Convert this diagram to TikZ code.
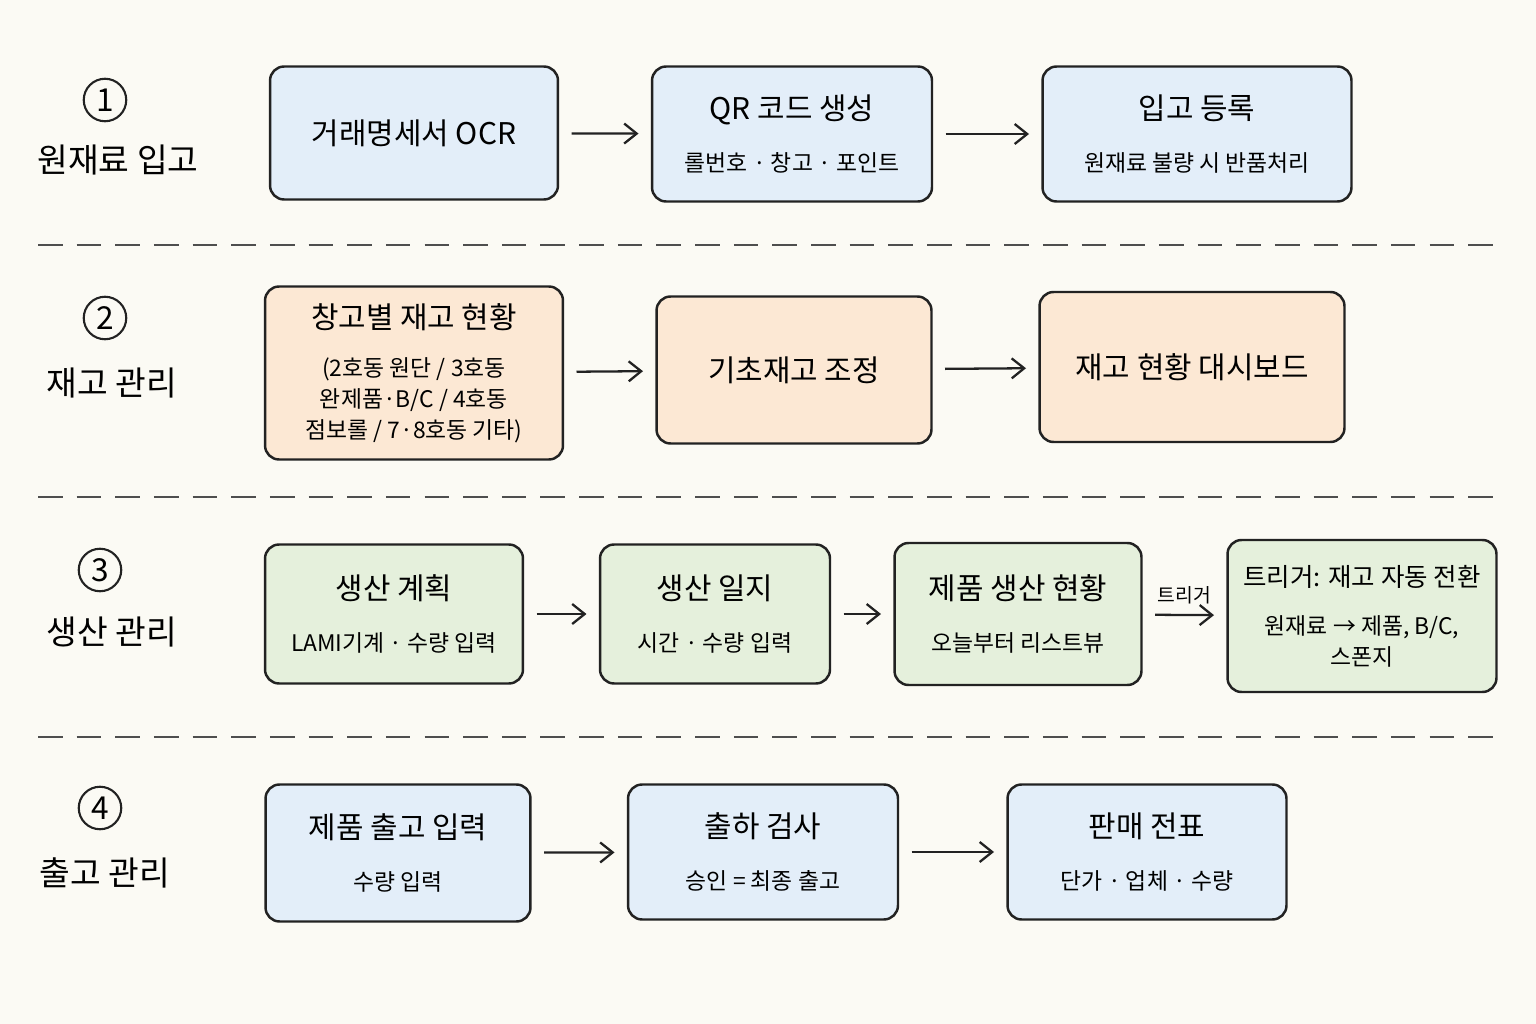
\documentclass[tikz,border=0pt]{standalone}
\usepackage{fontspec}
\setmainfont{Noto Sans CJK KR}
\usetikzlibrary{arrows.meta,positioning}
\definecolor{bg}{HTML}{FBFAF4}
\definecolor{bluef}{HTML}{E3EEF9}
\definecolor{orangef}{HTML}{FCE8D4}
\definecolor{greenf}{HTML}{E5F0DC}
\definecolor{ink}{HTML}{222222}
\newcommand{\ttlfont}{\fontsize{17}{21}\selectfont}
\begin{document}
\begin{tikzpicture}[x=0.02cm,y=-0.02cm,
  box/.style={draw=ink, line width=1.4pt, rounded corners=8pt, align=center, inner sep=2pt,
    font=\fontsize{13}{17.5}\selectfont},
  ttl/.style={font=\ttlfont},
  num/.style={draw=ink, line width=1.2pt, circle, minimum size=0.85cm, inner sep=0pt, font=\fontsize{18}{18}\selectfont},
  stage/.style={font=\fontsize{19}{22}\selectfont},
  arr/.style={-{Straight Barb[length=2.5mm,width=4mm]}, line width=1.3pt, draw=ink, shorten <=7pt, shorten >=7pt},
  sep/.style={dash pattern=on 14pt off 8pt, line width=1pt, draw=ink!80}]
  \fill[bg] (0,0) rectangle (1536,1024);
  \useasboundingbox (0,0) rectangle (1536,1024);

  % stage labels
  \node[num] (n1) at (105,100) {1};
  \node[stage] (s1) at (118,160) {원재료 입고};
  \node[num] (n2) at (105,318) {2};
  \node[stage] (s2) at (112,383) {재고 관리};
  \node[num] (n3) at (100,570) {3};
  \node[stage] (s3) at (112,632) {생산 관리};
  \node[num] (n4) at (100,808) {4};
  \node[stage] (s4) at (105,873) {출고 관리};

  % separators
  \draw[sep] (38,245) -- (1500,245);
  \draw[sep] (38,497) -- (1500,497);
  \draw[sep] (38,737) -- (1500,737);

  % row 1
  \node[box, fill=bluef, minimum width=5.76cm, minimum height=2.66cm, ttl] (ocr) at (414,133) {거래명세서 OCR};
  \node[box, fill=bluef, minimum width=5.6cm, minimum height=2.7cm] (qr) at (792,134)
    {{\ttlfont QR 코드 생성}\\[12pt]롤번호 · 창고 · 포인트};
  \node[box, fill=bluef, minimum width=6.18cm, minimum height=2.7cm] (reg) at (1197,134)
    {{\ttlfont 입고 등록}\\[12pt]원재료 불량 시 반품처리};
  \draw[arr] (ocr) -- (qr);
  \draw[arr] (qr) -- (reg);

  % row 2
  \node[box, fill=orangef, minimum width=5.96cm, minimum height=3.46cm] (wh) at (414,373)
    {{\ttlfont 창고별 재고 현황}\\[10pt](2호동 원단 / 3호동\\완제품·B/C / 4호동\\점보롤 / 7·8호동 기타)};
  \node[box, fill=orangef, minimum width=5.5cm, minimum height=2.94cm, ttl] (adj) at (794,370) {기초재고 조정};
  \node[box, fill=orangef, minimum width=6.1cm, minimum height=3cm, ttl] (dash) at (1192,367) {재고 현황 대시보드};
  \draw[arr] (wh) -- (adj);
  \draw[arr] (adj) -- (dash);

  % row 3
  \node[box, fill=greenf, minimum width=5.16cm, minimum height=2.78cm] (plan) at (394,614)
    {{\ttlfont 생산 계획}\\[12pt]LAMI기계 · 수량 입력};
  \node[box, fill=greenf, minimum width=4.6cm, minimum height=2.78cm] (log) at (715,614)
    {{\ttlfont 생산 일지}\\[12pt]시간 · 수량 입력};
  \node[box, fill=greenf, minimum width=4.94cm, minimum height=2.84cm] (prod) at (1018,614)
    {{\ttlfont 제품 생산 현황}\\[12pt]오늘부터 리스트뷰};
  \node[box, fill=greenf, minimum width=5.38cm, minimum height=3.04cm] (trig) at (1362,616)
    {{\fontsize{14.5}{18}\selectfont 트리거: 재고 자동 전환}\\[10pt]원재료 → 제품, B/C,\\스폰지};
  \draw[arr] (plan) -- (log);
  \draw[arr] (log) -- (prod);
  \draw[arr] (prod) -- node[above=2pt, font=\fontsize{11}{12}\selectfont]{트리거} (trig);

  % row 4
  \node[box, fill=bluef, minimum width=5.3cm, minimum height=2.74cm] (out) at (398,853)
    {{\ttlfont 제품 출고 입력}\\[12pt]수량 입력};
  \node[box, fill=bluef, minimum width=5.4cm, minimum height=2.7cm] (insp) at (763,852)
    {{\ttlfont 출하 검사}\\[12pt]승인 = 최종 출고};
  \node[box, fill=bluef, minimum width=5.58cm, minimum height=2.7cm] (sale) at (1147,852)
    {{\ttlfont 판매 전표}\\[12pt]단가 · 업체 · 수량};
  \draw[arr] (out) -- (insp);
  \draw[arr] (insp) -- (sale);
\end{tikzpicture}
\end{document}
